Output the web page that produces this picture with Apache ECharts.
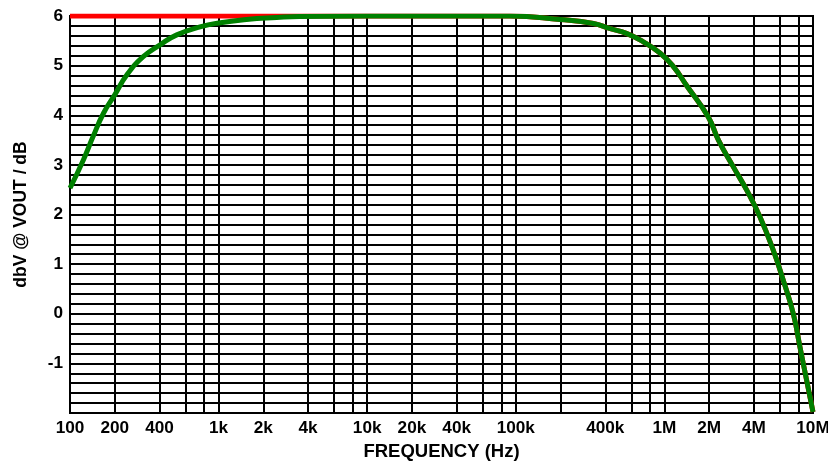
<!DOCTYPE html>
<html>
<head>
<meta charset="utf-8">
<script src="https://cdn.jsdelivr.net/npm/echarts@6/dist/echarts.min.js"></script>
<style>html,body{margin:0;padding:0;background:#fff}#c{width:828px;height:468px}</style>
</head>
<body>
<div id="c"></div>
<script>
// Frequencies (Hz) at which the curve was read
var freqs = [100, 123, 143, 168, 200, 241, 311, 404, 523, 750, 1000, 1540, 2460, 3500, 10000, 41800, 91000, 199000, 333000, 427000, 555000, 721000, 938000, 1150000, 1410000, 1970000, 2310000, 2910000, 3580000, 4400000, 5400000, 6300000, 7370000, 8170000, 9060000, 10000000];
// Green measured curve (dB)
var greenValues = [2.53, 3.10, 3.57, 4.04, 4.41, 4.81, 5.18, 5.42, 5.62, 5.78, 5.86, 5.93, 5.97, 5.99, 6.0, 6.0, 6.0, 5.93, 5.85, 5.75, 5.65, 5.48, 5.25, 4.98, 4.60, 3.97, 3.50, 2.96, 2.49, 1.95, 1.28, 0.68, 0.0, -0.67, -1.34, -1.98];
// Red reference curve (dB), hidden under green except at low frequency
var redValues = [6.0, 6.0, 6.0, 6.0, 6.0, 6.0, 6.0, 6.0, 6.0, 6.0, 6.0, 6.0, 6.0, 6.0, 6.0, 6.0, 6.0, 5.93, 5.85, 5.75, 5.65, 5.48, 5.25, 4.98, 4.60, 3.97, 3.50, 2.96, 2.49, 1.95, 1.28, 0.68, 0.0, -0.67, -1.34, -1.98];
// Vertical grid lines and tick labels
var gridFreqs = [100, 200, 400, 600, 800, 1000, 2000, 4000, 6000, 8000, 10000, 20000, 40000, 60000, 80000, 100000, 200000, 400000, 600000, 800000, 1000000, 2000000, 4000000, 6000000, 8000000, 10000000];
var labelFreqs = [100, 200, 400, 1000, 2000, 4000, 10000, 20000, 40000, 100000, 400000, 1000000, 2000000, 4000000, 10000000];
var yLabels = [-1, 0, 1, 2, 3, 4, 5, 6];

function fmtFreq(v) {
  if (v >= 1e6) return Math.round(v / 1e6) + 'M';
  if (v >= 1e3) return Math.round(v / 1e3) + 'k';
  return String(Math.round(v));
}
function pairs(xs, ys) { return xs.map(function (x, i) { return [x, ys[i]]; }); }

var font = 'Liberation Sans, Arial, sans-serif';
var fsLabel = 17.2;
var chart = echarts.init(document.getElementById('c'), null, {renderer: 'canvas'});
chart.setOption({
  animation: false,
  backgroundColor: '#fff',
  grid: {left: 70, right: 15, top: 16, bottom: 55, show: true, borderColor: '#000', borderWidth: 2, containLabel: false, outerBoundsMode: 'none'},
  xAxis: {
    type: 'log', logBase: 10, min: 100, max: 10000000,
    name: 'FREQUENCY (Hz)', nameLocation: 'middle', nameGap: 29,
    nameTextStyle: {fontFamily: font, fontWeight: 'bold', fontSize: 18.5, color: '#000'},
    axisLine: {show: true, lineStyle: {color: '#000', width: 2}},
    axisTick: {show: false, customValues: gridFreqs},
    axisLabel: {customValues: labelFreqs, formatter: fmtFreq, margin: 7, fontFamily: font, fontWeight: 'bold', fontSize: fsLabel, color: '#000', showMinLabel: true, showMaxLabel: true, hideOverlap: false},
    splitLine: {show: true, lineStyle: {color: '#000', width: 2}},
    minorSplitLine: {show: false}
  },
  yAxis: {
    type: 'value', min: -2, max: 6, interval: 1,
    name: 'dbV @ VOUT / dB', nameLocation: 'middle', nameGap: 40,
    nameTextStyle: {fontFamily: font, fontWeight: 'bold', fontSize: 17.5, color: '#000'},
    axisLine: {show: true, lineStyle: {color: '#000', width: 2}},
    axisTick: {show: false},
    axisLabel: {margin: 7, fontFamily: font, fontWeight: 'bold', fontSize: fsLabel, color: '#000',
      formatter: function (v) { return yLabels.indexOf(v) >= 0 ? String(v) : ''; }},
    splitLine: {show: true, lineStyle: {color: '#000', width: 2}},
    minorTick: {show: false, splitNumber: 5},
    minorSplitLine: {show: true, lineStyle: {color: '#000', width: 2}}
  },
  series: [
    {type: 'line', data: pairs(freqs, redValues), smooth: true, showSymbol: false, symbol: 'none',
      lineStyle: {color: '#ff0000', width: 5}, z: 3},
    {type: 'line', data: pairs(freqs, greenValues), smooth: true, showSymbol: false, symbol: 'none',
      lineStyle: {color: '#008000', width: 5}, z: 4}
  ]
});
</script>
</body>
</html>
